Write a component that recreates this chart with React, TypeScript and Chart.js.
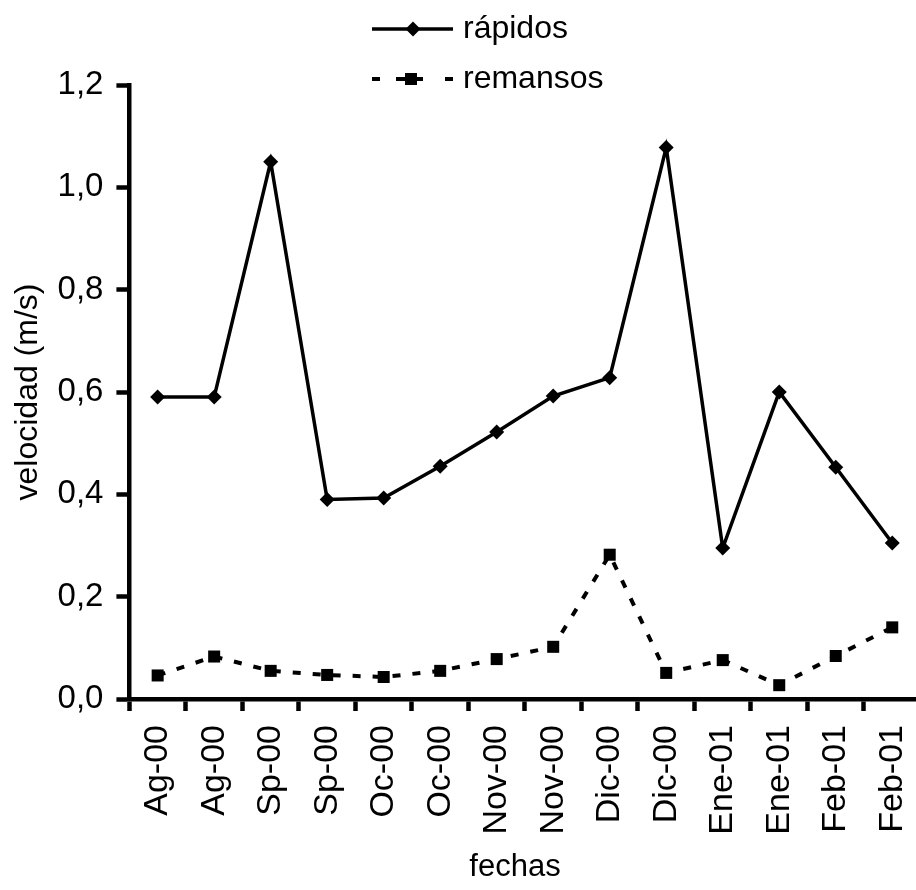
import React, { useEffect, useRef } from "react";
import { Chart, registerables } from "chart.js";

Chart.register(...registerables);

const categories = [
  "Ag-00", "Ag-00", "Sp-00", "Sp-00", "Oc-00", "Oc-00", "Nov-00",
  "Nov-00", "Dic-00", "Dic-00", "Ene-01", "Ene-01", "Feb-01", "Feb-01",
];
const rapidos = [0.59, 0.59, 1.05, 0.39, 0.393, 0.455, 0.522, 0.592, 0.628, 1.078, 0.295, 0.6, 0.453, 0.305];
const remansos = [0.046, 0.083, 0.055, 0.047, 0.043, 0.055, 0.078, 0.102, 0.282, 0.051, 0.076, 0.027, 0.084, 0.14];
const yMin = 0;
const yMax = 1.2;
const yStep = 0.2;
const seriesNames = ["rápidos", "remansos"];
const xTitle = "fechas";
const yTitle = "velocidad (m/s)";

const FONT = "'Liberation Sans', Arial, sans-serif";

const legendPlugin = {
  id: "customLegend",
  afterDraw(chart: any) {
    const ctx = chart.ctx;
    ctx.save();
    const x0 = 372;
    const x1 = 453;
    const rows = [29, 79];
    ctx.strokeStyle = "#000";
    ctx.fillStyle = "#000";
    // solid
    ctx.lineWidth = 3.5;
    ctx.beginPath();
    ctx.moveTo(x0, rows[0]);
    ctx.lineTo(x1, rows[0]);
    ctx.stroke();
    const xm = 413;
    ctx.beginPath();
    ctx.moveTo(xm - 7.5, rows[0]);
    ctx.lineTo(xm, rows[0] - 7.5);
    ctx.lineTo(xm + 7.5, rows[0]);
    ctx.lineTo(xm, rows[0] + 7.5);
    ctx.closePath();
    ctx.fill();
    // dashed
    ctx.lineWidth = 4;
    const segs = [[372, 380], [396, 423], [445, 453]];
    for (const [a, b] of segs) {
      ctx.beginPath();
      ctx.moveTo(a, rows[1]);
      ctx.lineTo(b, rows[1]);
      ctx.stroke();
    }
    ctx.fillRect(411 - 6, rows[1] - 6, 12, 12);
    ctx.font = `32px ${FONT}`;
    ctx.textBaseline = "middle";
    ctx.textAlign = "left";
    ctx.fillText(seriesNames[0], 463, rows[0]);
    ctx.fillText(seriesNames[1], 463, rows[1]);
    // x axis title
    ctx.font = `31px ${FONT}`;
    ctx.textAlign = "center";
    ctx.fillText(xTitle, 515, 867);
    ctx.restore();
  },
};

export default function App() {
  const ref = useRef<HTMLCanvasElement | null>(null);
  useEffect(() => {
    if (!ref.current) return;
    const chart = new Chart(ref.current, {
      type: "line",
      data: {
        labels: categories,
        datasets: [
          {
            label: seriesNames[0],
            data: rapidos,
            borderColor: "#000",
            backgroundColor: "#000",
            borderWidth: 3.5,
            pointStyle: "rectRot",
            pointRadius: 7.5,
            pointBorderWidth: 0,
            pointBackgroundColor: "#000",
            tension: 0,
            clip: false,
          },
          {
            label: seriesNames[1],
            data: remansos,
            borderColor: "#000",
            backgroundColor: "#000",
            borderWidth: 4,
            borderDash: [8, 12],
            pointStyle: "rect",
            pointRadius: 8.5,
            pointBorderWidth: 0,
            pointBackgroundColor: "#000",
            tension: 0,
            clip: false,
          },
        ],
      },
      options: {
        responsive: false,
        animation: false,
        devicePixelRatio: 1,
        layout: { padding: { top: 85, right: 2, left: 0, bottom: 0 } },
        plugins: {
          legend: { display: false },
          tooltip: { enabled: false },
        },
        scales: {
          x: {
            type: "category",
            offset: true,
            grid: {
              offset: true,
              drawOnChartArea: false,
              drawTicks: true,
              tickLength: 12,
              tickWidth: 4.5,
              tickColor: "#000",
            },
            border: { display: true, color: "#000", width: 4.5 },
            ticks: {
              color: "#000",
              font: { family: FONT, size: 34 },
              minRotation: 90,
              maxRotation: 90,
              padding: 14,
              autoSkip: false,
            },
            title: { display: false },
            afterFit(scale: any) {
              scale.height = 191;
              scale.paddingLeft = 0;
              scale.paddingRight = 0;
            },
          },
          y: {
            min: yMin,
            max: yMax,
            grid: {
              drawOnChartArea: false,
              drawTicks: true,
              tickLength: 13,
              tickWidth: 4.5,
              tickColor: "#000",
            },
            border: { display: true, color: "#000", width: 4.5 },
            ticks: {
              stepSize: yStep,
              color: "#000",
              font: { family: FONT, size: 33 },
              padding: 13,
              callback: (v: any) => Number(v).toFixed(1).replace(".", ","),
            },
            title: {
              display: true,
              text: yTitle,
              color: "#000",
              font: { family: FONT, size: 32 },
              padding: { top: 9, bottom: 0 },
            },
            afterFit(scale: any) {
              scale.width = 129.4;
            },
          },
        },
      },
      plugins: [legendPlugin],
    } as any);
    return () => chart.destroy();
  }, []);

  return (
    <div style={{ position: "fixed", left: 0, top: 0, width: 916, height: 890, overflow: "hidden", background: "#fff" }}>
      <canvas ref={ref} width={929} height={890} style={{ display: "block" }} />
    </div>
  );
}
